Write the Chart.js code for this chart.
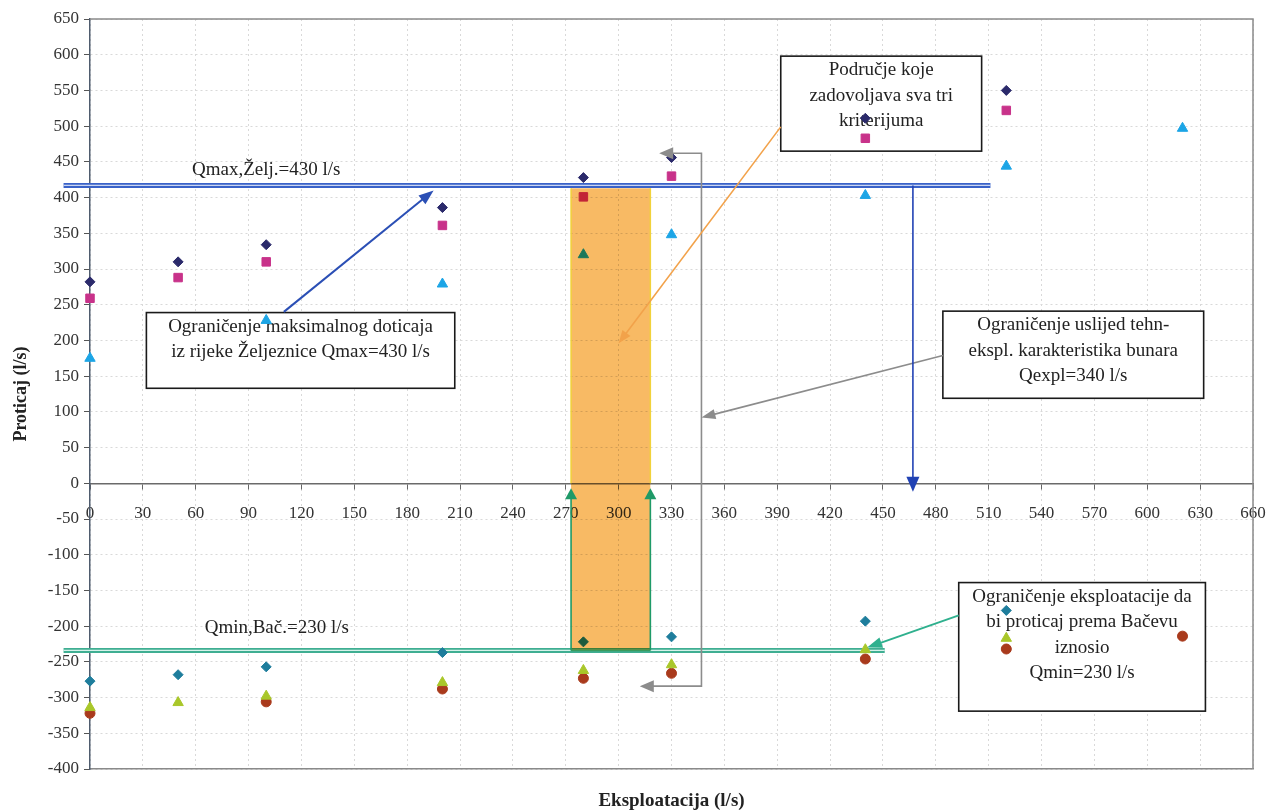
<!DOCTYPE html>
<html>
<head>
<meta charset="utf-8">
<script src="https://cdn.jsdelivr.net/npm/chart.js@4.4.0/dist/chart.umd.min.js"></script>
<style>
  html, body { margin: 0; padding: 0; background: #fff; }
</style>
</head>
<body>
<canvas id="myChart" width="1271" height="812"></canvas>
<script>
// Eksploatacija (l/s) for each run
const xUpper = [0, 50, 100, 200, 280, 330, 440, 520];
const xCyan = [0, 100, 200, 280, 330, 440, 520, 620];
const xLower = [0, 50, 100, 200, 280, 330, 440, 520];
const xCircle = [0, 100, 200, 280, 330, 440, 520, 620];

// Proticaj (l/s)
const navyDiamonds = [282, 310, 334, 386, 428, 456, 511, 550];
const pinkSquares = [259, 288, 310, 361, 401, 430, 483, 522];
const cyanTriangles = [175, 228, 279, 320, 348, 403, 444, 497];
const tealDiamonds = [-277, -268, -257, -237, -222, -215, -193, -178];
const limeTriangles = [-314, -307, -298, -279, -262, -254, -233, -217];
const brownCircles = [-322, -306, -288, -273, -266, -246, -232, -214];

// axes
const xMin = 0, xMax = 660, xStep = 30;
const yMin = -400, yMax = 650, yStep = 50;

// limits drawn on the chart (data units)
const qmaxLine = { from: -15, to: 511, y: 417 };
const qminLine = { from: -15, to: 451, y: -234 };
const feasibleBand = { from: 273, to: 318, top: 413, bottom: -234 };

const noteBoxes = [
  { x0: 32, y0: 239, x1: 207, y1: 133, lines: ["Ograničenje maksimalnog doticaja", "iz rijeke Željeznice Qmax=430 l/s"] },
  { x0: 392, y0: 598, x1: 506, y1: 465, lines: ["Područje koje", "zadovoljava sva tri", "kriterijuma"] },
  { x0: 484, y0: 241, x1: 632, y1: 119, lines: ["Ograničenje uslijed tehn-", "ekspl. karakteristika bunara", "Qexpl=340 l/s"] },
  { x0: 493, y0: -139, x1: 633, y1: -319, lines: ["Ograničenje eksploatacije da", "bi proticaj prema Bačevu", "iznosio", "Qmin=230 l/s"] }
];

const lineLabels = [
  { x: 100, y: 438, text: "Qmax,Želj.=430 l/s" },
  { x: 106, y: -203, text: "Qmin,Bač.=230 l/s" }
];

// arrows [x0, y0, x1, y1]
const arrows = [
  { p: [110, 240, 195, 410], color: "#2b4fb5", w: 2, len: 15, wid: 11 },
  { p: [392, 499, 300, 196], color: "#f2a24a", w: 1.6, len: 13, wid: 10 },
  { p: [484, 179, 347, 92], color: "#8c8c8c", w: 1.6, len: 14, wid: 10 },
  { p: [493, -185, 441, -230], color: "#2fb08e", w: 2, len: 15, wid: 11 },
  { p: [467, 417, 467, -12], color: "#2142b4", w: 1.6, len: 15, wid: 13 },
  { p: [273, -234, 273, -7], color: "#1f9a68", w: 1.6, len: 11, wid: 12 },
  { p: [318, -234, 318, -7], color: "#1f9a68", w: 1.6, len: 11, wid: 12 }
];
// grey bracket towards Qexpl=340 l/s
const bracket = [[323, 462], [347, 462], [347, -284], [312, -284]];

const toPoints = (xs, ys) => xs.map((x, i) => ({ x: x, y: ys[i] }));

function drawArrowHead(ctx, x0, y0, x1, y1, color, len, wid) {
  const a = Math.atan2(y1 - y0, x1 - x0);
  const bx = x1 - Math.cos(a) * len;
  const by = y1 - Math.sin(a) * len;
  ctx.fillStyle = color;
  ctx.beginPath();
  ctx.moveTo(x1, y1);
  ctx.lineTo(bx + Math.sin(a) * wid / 2, by - Math.cos(a) * wid / 2);
  ctx.lineTo(bx - Math.sin(a) * wid / 2, by + Math.cos(a) * wid / 2);
  ctx.closePath();
  ctx.fill();
}

function drawArrow(ctx, x0, y0, x1, y1, color, w, len, wid) {
  const a = Math.atan2(y1 - y0, x1 - x0);
  ctx.strokeStyle = color;
  ctx.lineWidth = w;
  ctx.beginPath();
  ctx.moveTo(x0, y0);
  ctx.lineTo(x1 - Math.cos(a) * len * 0.7, y1 - Math.sin(a) * len * 0.7);
  ctx.stroke();
  drawArrowHead(ctx, x0, y0, x1, y1, color, len, wid);
}

function doubleLine(ctx, x0, x1, yy, outer, inner) {
  ctx.lineWidth = 5;
  ctx.strokeStyle = outer;
  ctx.beginPath(); ctx.moveTo(x0, yy); ctx.lineTo(x1, yy); ctx.stroke();
  ctx.lineWidth = 1.2;
  ctx.strokeStyle = inner;
  ctx.beginPath(); ctx.moveTo(x0, yy); ctx.lineTo(x1, yy); ctx.stroke();
}

const annotate = {
  id: "annotate",
  beforeDatasetsDraw(chart) {
    const { ctx, chartArea, scales: { x, y } } = chart;
    ctx.save();
    // frame
    ctx.strokeStyle = "#8a8a8a";
    ctx.lineWidth = 1.5;
    ctx.beginPath();
    ctx.moveTo(chartArea.left, chartArea.top);
    ctx.lineTo(chartArea.right, chartArea.top);
    ctx.lineTo(chartArea.right, chartArea.bottom);
    ctx.stroke();

    doubleLine(ctx, x.getPixelForValue(qmaxLine.from), x.getPixelForValue(qmaxLine.to), y.getPixelForValue(qmaxLine.y), "#3a62c8", "#c9d5f2");
    doubleLine(ctx, x.getPixelForValue(qminLine.from), x.getPixelForValue(qminLine.to), y.getPixelForValue(qminLine.y), "#3fae92", "#d6f2ea");

    // text boxes
    ctx.font = '19px "Liberation Serif", "Times New Roman", serif';
    ctx.textAlign = "center";
    ctx.textBaseline = "middle";
    noteBoxes.forEach((b) => {
      const left = x.getPixelForValue(b.x0), right = x.getPixelForValue(b.x1);
      const top = y.getPixelForValue(b.y0), bottom = y.getPixelForValue(b.y1);
      ctx.fillStyle = "#fff";
      ctx.fillRect(left, top, right - left, bottom - top);
      ctx.strokeStyle = "#1a1a1a";
      ctx.lineWidth = 1.6;
      ctx.strokeRect(left, top, right - left, bottom - top);
      ctx.fillStyle = "#222";
      b.lines.forEach((t, i) => ctx.fillText(t, (left + right) / 2, top + 14 + i * 25.5));
    });
    ctx.restore();
  },
  afterDatasetsDraw(chart) {
    const { ctx, scales: { x, y } } = chart;
    ctx.save();
    const bl = x.getPixelForValue(feasibleBand.from), br = x.getPixelForValue(feasibleBand.to);
    const bt = y.getPixelForValue(feasibleBand.top), bb = y.getPixelForValue(feasibleBand.bottom);
    const zero = y.getPixelForValue(0);
    ctx.globalCompositeOperation = "multiply";
    ctx.fillStyle = "#f8ba64";
    ctx.fillRect(bl, bt, br - bl, bb - bt);
    ctx.globalCompositeOperation = "source-over";
    ctx.strokeStyle = "#f1d23a";
    ctx.lineWidth = 1.5;
    ctx.beginPath();
    ctx.moveTo(bl, bt); ctx.lineTo(bl, zero);
    ctx.moveTo(br, bt); ctx.lineTo(br, zero);
    ctx.stroke();
    ctx.strokeStyle = "#3a9a5c";
    ctx.beginPath();
    ctx.moveTo(bl, bb); ctx.lineTo(br, bb);
    ctx.stroke();

    // bracket
    const pts = bracket.map((p) => [x.getPixelForValue(p[0]), y.getPixelForValue(p[1])]);
    ctx.strokeStyle = "#8c8c8c";
    ctx.lineWidth = 1.6;
    ctx.beginPath();
    ctx.moveTo(pts[0][0] + 10, pts[0][1]);
    for (let i = 1; i < pts.length - 1; i++) ctx.lineTo(pts[i][0], pts[i][1]);
    ctx.lineTo(pts[3][0] + 10, pts[3][1]);
    ctx.stroke();
    drawArrowHead(ctx, pts[1][0], pts[1][1], pts[0][0], pts[0][1], "#8c8c8c", 14, 12);
    drawArrowHead(ctx, pts[2][0], pts[2][1], pts[3][0], pts[3][1], "#8c8c8c", 14, 12);

    arrows.forEach((a) => {
      drawArrow(ctx, x.getPixelForValue(a.p[0]), y.getPixelForValue(a.p[1]), x.getPixelForValue(a.p[2]), y.getPixelForValue(a.p[3]), a.color, a.w, a.len, a.wid);
    });

    ctx.font = '19px "Liberation Serif", "Times New Roman", serif';
    ctx.textAlign = "center";
    ctx.textBaseline = "middle";
    ctx.fillStyle = "#222";
    lineLabels.forEach((l) => ctx.fillText(l.text, x.getPixelForValue(l.x), y.getPixelForValue(l.y)));
    ctx.restore();
  }
};

const ctx = document.getElementById("myChart").getContext("2d");
Chart.defaults.font.family = '"Liberation Serif", "Times New Roman", serif';
Chart.defaults.color = "#333";

const dotted = { color: "#d9d9d9", lineWidth: 1 };
const marker = { clip: false, borderWidth: 1 };

new Chart(ctx, {
  type: "scatter",
  data: {
    datasets: [
      { ...marker, data: toPoints(xUpper, navyDiamonds), pointStyle: "rectRot", radius: 5, backgroundColor: "#2b2a6b", borderColor: "#2b2a6b" },
      { ...marker, data: toPoints(xUpper, pinkSquares), pointStyle: "rect", radius: 6, backgroundColor: "#c8328a", borderColor: "#c8328a" },
      { ...marker, data: toPoints(xCyan, cyanTriangles), pointStyle: "triangle", radius: 6, backgroundColor: "#1ca5e6", borderColor: "#1ca5e6" },
      { ...marker, data: toPoints(xLower, tealDiamonds), pointStyle: "rectRot", radius: 5, backgroundColor: "#1e7d9c", borderColor: "#1e7d9c" },
      { ...marker, data: toPoints(xLower, limeTriangles), pointStyle: "triangle", radius: 6, backgroundColor: "#a9c72a", borderColor: "#a9c72a" },
      { ...marker, data: toPoints(xCircle, brownCircles), pointStyle: "circle", radius: 5, backgroundColor: "#a93a1c", borderColor: "#a93a1c" }
    ]
  },
  options: {
    responsive: false,
    animation: false,
    layout: { padding: { top: 19, right: 18, left: 0, bottom: 0 } },
    plugins: { legend: { display: false }, tooltip: { enabled: false } },
    scales: {
      x: {
        type: "linear",
        position: "bottom",
        min: xMin,
        max: xMax,
        afterFit: (scale) => { scale.height = 43; },
        ticks: { display: false, stepSize: xStep },
        grid: { ...dotted, drawTicks: false },
        border: { display: true, color: "#8a8a8a", width: 1.5, dash: [2, 3] },
        title: {
          display: true,
          text: "Eksploatacija (l/s)",
          font: { size: 19, weight: "bold" },
          color: "#222",
          padding: { top: 0, bottom: 0 }
        }
      },
      x2: {
        type: "linear",
        axis: "x",
        position: { y: 0 },
        min: xMin,
        max: xMax,
        afterFit: (scale) => {
          scale.height = 0;
          scale.paddingLeft = 0;
          scale.paddingRight = 0;
        },
        ticks: { stepSize: xStep, autoSkip: false, maxRotation: 0, padding: 15, font: { size: 17 }, color: "#333" },
        grid: { drawOnChartArea: false, drawTicks: true, tickLength: 5, tickColor: "#666", tickBorderDash: [] },
        border: { display: true, color: "#6a6a6a", width: 1.5 }
      },
      y: {
        min: yMin,
        max: yMax,
        afterFit: (scale) => { scale.width = 90; },
        ticks: { stepSize: yStep, padding: 5, font: { size: 17 }, color: "#333" },
        grid: { ...dotted, drawTicks: true, tickLength: 6, tickColor: "#555", tickBorderDash: [] },
        border: { display: true, color: "#4f5c6e", width: 1.5, dash: [2, 3] },
        title: {
          display: true,
          text: "Proticaj (l/s)",
          font: { size: 18, weight: "bold" },
          color: "#222",
          padding: { top: 11, bottom: 0 }
        }
      }
    }
  },
  plugins: [annotate]
});
</script>
</body>
</html>
